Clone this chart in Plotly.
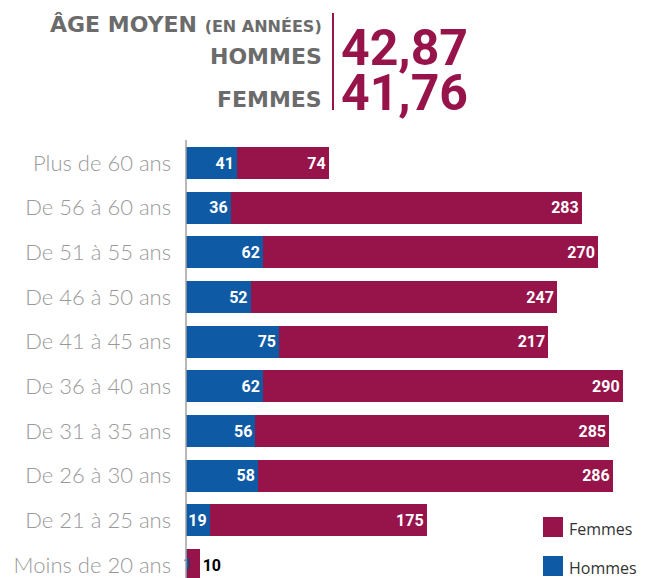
"""
Âge moyen - répartition hommes / femmes par tranche d'âge
Stacked horizontal bar chart
"""

import plotly.graph_objects as go

# Data (top to bottom in the picture)
tranches = ['Plus de 60 ans', 'De 56 à 60 ans', 'De 51 à 55 ans', 'De 46 à 50 ans',
            'De 41 à 45 ans', 'De 36 à 40 ans', 'De 31 à 35 ans', 'De 26 à 30 ans',
            'De 21 à 25 ans', 'Moins de 20 ans']
hommes = [41, 36, 62, 52, 75, 62, 56, 58, 19, 1]
femmes = [74, 283, 270, 247, 217, 290, 285, 286, 175, 10]

age_moyen_hommes = '42,87'
age_moyen_femmes = '41,76'

BLUE = '#0f5aa5'
CRIMSON = '#97144b'
GREY = '#6b6b6b'
FONT = 'Lato'
NUMFONT = 'Roboto'

# plotly draws categories bottom-up, so reverse
cats = tranches[::-1]
h = hommes[::-1]
f = femmes[::-1]

# the page body keeps its 8px default margin, so the figure is a bit smaller
OFF = 8
W, H = 650 - OFF, 578 - OFF
L, R, T, B = 186 - OFF, 10, 130 - OFF, 0
pw, ph = W - L - R, H - T - B


def px_x(x):
    return (x - OFF - L) / pw


def px_y(y):
    return (H - B - (y - OFF)) / ph


# values too small to hold their label inside the bar get it through a text trace
small = [v < 5 for v in h]

fig = go.Figure()
fig.add_trace(go.Bar(
    y=cats, x=h, name='Hommes', orientation='h',
    marker=dict(color=BLUE, line=dict(width=0)),
    text=[('' if s else v) for v, s in zip(h, small)],
    textposition='inside', insidetextanchor='end',
    constraintext='none', textangle=0,
    textfont=dict(family=NUMFONT, size=16, color='white', weight='bold'),
    hoverinfo='x+y+name',
))
fig.add_trace(go.Bar(
    y=cats, x=f, name='Femmes', orientation='h',
    marker=dict(color=CRIMSON, line=dict(width=0)),
    text=f,
    textposition=['outside' if v < 30 else 'inside' for v in f],
    insidetextanchor='end', constraintext='none', textangle=0, cliponaxis=False,
    insidetextfont=dict(family=NUMFONT, size=16, color='white', weight='bold'),
    outsidetextfont=dict(family=NUMFONT, size=16, color='black', weight='bold'),
    hoverinfo='x+y+name',
))
fig.add_trace(go.Scatter(
    y=[c for c, s in zip(cats, small) if s],
    x=[v / 2 + 0.6 for v, s in zip(h, small) if s],
    text=[v for v, s in zip(h, small) if s],
    mode='text', textposition='middle center', cliponaxis=False,
    textfont=dict(family=NUMFONT, size=14, color=BLUE, weight='bold'),
    hoverinfo='skip', showlegend=False,
))

fig.update_layout(
    width=W, height=H,
    margin=dict(l=L, r=R, t=T, b=B, autoexpand=False),
    barmode='stack', bargap=0.28,
    showlegend=False,
    plot_bgcolor='white', paper_bgcolor='white',
    font=dict(family=FONT),
)
fig.update_xaxes(range=[0, 366], visible=False, fixedrange=True, automargin=False)
fig.update_yaxes(
    range=[-0.29, 9.74], showgrid=False, zeroline=False, automargin=False,
    showline=False, ticks='', ticklabelstandoff=14, fixedrange=True,
    tickfont=dict(family=FONT, size=22, color='#999999', weight=300),
)

# vertical axis line
fig.add_shape(type='line', xref='paper', yref='paper',
              x0=0, x1=0, y0=0, y1=px_y(140),
              line=dict(color='#a0a0a0', width=1.5))

# legend drawn by hand (bigger squares than plotly's)
for label, color, yc in [('Femmes', CRIMSON, 527), ('Hommes', BLUE, 566)]:
    fig.add_shape(type='rect', xref='paper', yref='paper',
                  x0=px_x(543), x1=px_x(563), y0=px_y(yc + 10), y1=px_y(yc - 10),
                  fillcolor=color, line=dict(width=0))
    fig.add_annotation(x=px_x(567), y=px_y(yc + 2), xref='paper', yref='paper',
                       text=label, showarrow=False, xanchor='left', yanchor='middle',
                       font=dict(family='Open Sans', size=16, color='#333333'))

# header block
HDR = 'DejaVu Sans'
fig.add_annotation(x=px_x(324), y=px_y(24), xref='paper', yref='paper',
                   text="ÂGE MOYEN <span style='font-size:16px'>(EN ANNÉES)</span>",
                   showarrow=False, xanchor='right', yanchor='middle',
                   font=dict(family=HDR, size=22, color=GREY, weight='bold'))
fig.add_annotation(x=px_x(324), y=px_y(57), xref='paper', yref='paper',
                   text='HOMMES', showarrow=False, xanchor='right', yanchor='middle',
                   font=dict(family=HDR, size=22, color=GREY, weight='bold'))
fig.add_annotation(x=px_x(324), y=px_y(100), xref='paper', yref='paper',
                   text='FEMMES', showarrow=False, xanchor='right', yanchor='middle',
                   font=dict(family=HDR, size=22, color=GREY, weight='bold'))
fig.add_annotation(x=px_x(339), y=px_y(48), xref='paper', yref='paper',
                   text=age_moyen_hommes, showarrow=False, xanchor='left', yanchor='middle',
                   font=dict(family='Roboto', size=50, color=CRIMSON, weight='bold'))
fig.add_annotation(x=px_x(339), y=px_y(93), xref='paper', yref='paper',
                   text=age_moyen_femmes, showarrow=False, xanchor='left', yanchor='middle',
                   font=dict(family='Roboto', size=50, color=CRIMSON, weight='bold'))
fig.add_shape(type='line', xref='paper', yref='paper',
              x0=px_x(333), x1=px_x(333), y0=px_y(110), y1=px_y(13),
              line=dict(color=CRIMSON, width=2))

fig.write_html('out.html')
print("Created: out.html")
